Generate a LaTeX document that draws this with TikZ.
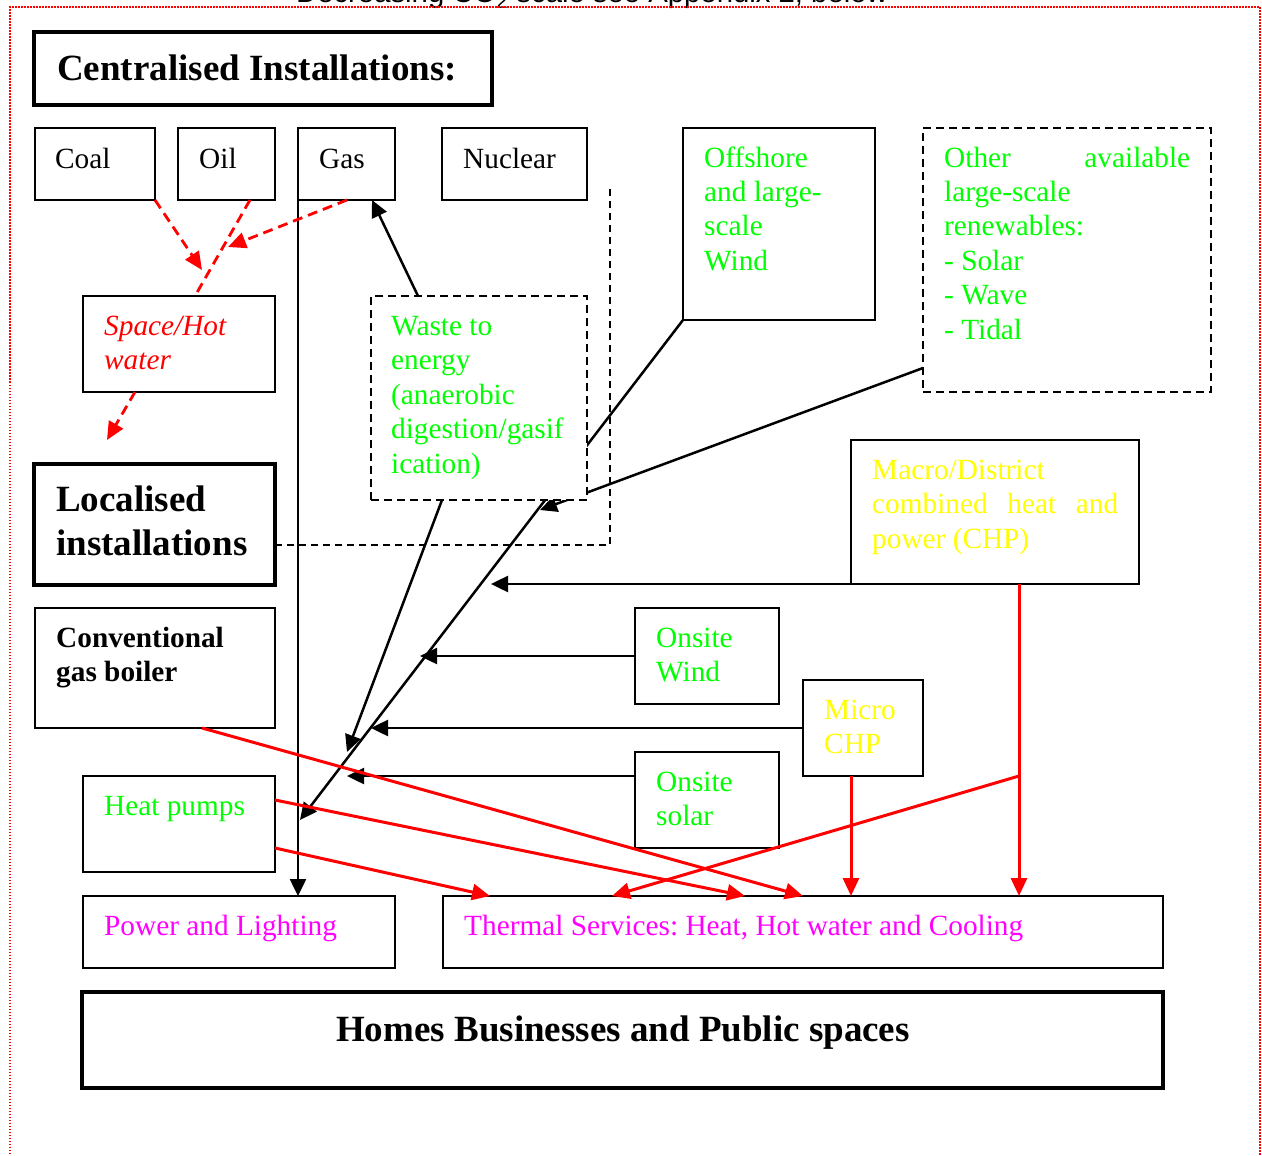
\documentclass[tikz,border=0pt]{standalone}
\usepackage{fontspec}
\setmainfont{Liberation Serif}
\newfontfamily\arialf{Liberation Sans}
\usetikzlibrary{arrows.meta,backgrounds,calc}
\definecolor{grn}{RGB}{0,255,0}
\definecolor{yel}{RGB}{255,255,0}
\definecolor{mag}{RGB}{255,0,255}
\frenchspacing
\begin{document}
\begin{tikzpicture}[x=1pt,y=-1pt,
  box/.style={draw, line width=2.2pt, fill=white, inner sep=0pt, outer sep=0pt, anchor=north west},
  dbox/.style={box, dash pattern=on 8pt off 5pt},
  tbox/.style={box, line width=3.8pt},
  txt/.style={inner sep=0pt, anchor=base west, font=\fontsize{29.3}{34.5}\selectfont},
  btxt/.style={inner sep=0pt, anchor=base west, font=\bfseries\fontsize{37}{44}\selectfont},
  conn/.style={line width=2.5pt, -{Triangle[length=17pt,width=16pt]}},
  rconn/.style={red, line width=3pt, -{Triangle[length=18pt,width=16pt]}},
  rdash/.style={red, line width=2.8pt, dash pattern=on 10pt off 6pt},
  rtip/.style={-{Triangle[length=18pt,width=16pt]}},
  frame/.style={red, line width=1.5pt, dash pattern=on 1.5pt off 1.5pt}]
\useasboundingbox (0,0) rectangle (1262,1156);
\clip (0,0) rectangle (1262,1156);

% title (cut off at top)
\node[inner sep=0pt, anchor=base, font=\arialf\fontsize{29.3}{34}\selectfont] (title) at (592,3) {Decreasing CO\textsubscript{2} scale see Appendix 2, below};
% red dotted frame
\coordinate (f1) at (10,1160); \coordinate (f2) at (10,7);
\coordinate (f3) at (1260,7); \coordinate (f4) at (1260,1160);
\draw[frame] (f1) -- (f2) -- (f3) -- (f4);

% boxes
\node[tbox, minimum width=458, minimum height=73] (central) at (34,32) {};
\node[box, minimum width=120, minimum height=72] (coal) at (35,128) {};
\node[box, minimum width=97, minimum height=72] (oil) at (178,128) {};
\node[box, minimum width=97, minimum height=72] (gas) at (298,128) {};
\node[box, minimum width=145, minimum height=72] (nuclear) at (442,128) {};
\node[box, minimum width=192, minimum height=192] (off) at (683,128) {};
\node[dbox, minimum width=288, minimum height=264] (other) at (923,128) {};
\node[box, minimum width=192, minimum height=96] (space) at (83,296) {};
\node[dbox, minimum width=216, minimum height=204] (waste) at (371,296) {};
\node[tbox, minimum width=241, minimum height=121] (local) at (34,464) {};
\node[box, minimum width=288, minimum height=144] (macro) at (851,440) {};
\node[box, minimum width=240, minimum height=120] (boiler) at (35,608) {};
\node[box, minimum width=144, minimum height=96] (wind) at (635,608) {};
\node[box, minimum width=120, minimum height=96] (micro) at (803,680) {};
\node[box, minimum width=144, minimum height=96] (solar) at (635,752) {};
\node[box, minimum width=192, minimum height=96] (hp) at (83,776) {};
\node[box, minimum width=312, minimum height=72] (power) at (83,896) {};
\node[box, minimum width=720, minimum height=72] (thermal) at (443,896) {};
\node[tbox, minimum width=1081, minimum height=96] (homes) at (82,992) {};

% texts
\node[btxt] (central-t) at (57,81) {Centralised Installations:};
\node[txt] (coal-t) at (55,168) {Coal};
\node[txt] (oil-t) at (199,168) {Oil};
\node[txt] (gas-t) at (319,168) {Gas};
\node[txt] (nuclear-t) at (463,168) {Nuclear};
\node[txt, text=grn] (off-t) at (704,167) {\parbox[t]{200pt}{Offshore\\and large-\\scale\\Wind}};
\node[txt, text=grn] (other-t) at (944,167) {\parbox[t]{246pt}{Other\hfill available\\large-scale\\renewables:\\- Solar\\- Wave\\- Tidal}};
\node[txt, text=red, font=\itshape\fontsize{29.3}{34.5}\selectfont] (space-t) at (104,335) {\parbox[t]{200pt}{Space/Hot\\water}};
\node[txt, text=grn] (waste-t) at (391,335) {\parbox[t]{200pt}{Waste to\\energy\\(anaerobic\\digestion/gasif\\ication)}};
\node[btxt] (local-t) at (56,511) {\parbox[t]{240pt}{Localised\\installations}};
\node[txt, text=yel] (macro-t) at (872,479) {\parbox[t]{246pt}{Macro/District\\combined\hfill heat\hfill and\\power (CHP)}};
\node[txt, font=\bfseries\fontsize{29.3}{34.5}\selectfont] (boiler-t) at (56,647) {\parbox[t]{240pt}{Conventional\\gas boiler}};
\node[txt, text=grn] (wind-t) at (656,647) {\parbox[t]{140pt}{Onsite\\Wind}};
\node[txt, text=yel] (micro-t) at (824,719) {\parbox[t]{140pt}{Micro\\CHP}};
\node[txt, text=grn] (solar-t) at (656,791) {\parbox[t]{140pt}{Onsite\\solar}};
\node[txt, text=grn] (hp-t) at (104,815) {Heat pumps};
\node[txt, text=mag] (power-t) at (104,935) {Power and Lighting};
\node[txt, text=mag] (thermal-t) at (464,935) {Thermal Services: Heat, Hot water and Cooling};
\node[btxt, anchor=base] (homes-t) at (623,1041) {Homes Businesses and Public spaces};

% free ends
\coordinate (pA) at (202,270);
\coordinate (pB) at (228,247);
\coordinate (pC) at (107,440);
\coordinate (t1) at (347,752);
\coordinate (t2) at (300,820);
\coordinate (t3) at (540,510);
\coordinate (t4) at (491,584);
\coordinate (t5) at (420,656);
\coordinate (t6) at (371,728);
\coordinate (t7) at (347,776);
\coordinate (br) at (1019,776);
\coordinate (dl1) at (610,545);
\coordinate (dl2) at (610,185);

% lines passing behind the waste box
\begin{pgfonlayer}{background}
\draw[conn] (off.south west) -- (t2);
\draw[conn] ([yshift=-240pt]other.north west) -- (t3);
\end{pgfonlayer}

% dashed boundary
\draw[line width=1.6pt, dash pattern=on 7pt off 5pt] ([yshift=-81pt]local.north east) -- (dl1) -- (dl2);

% black connectors
\draw[conn] (gas.south west) -- (gas.south west |- power.north);
\draw[conn] ([xshift=47pt]waste.north west) -- ([xshift=74pt]gas.south west);
\draw[conn] ([xshift=71pt]waste.south west) -- (t1);
\draw[conn] (macro.south west) -- (t4);
\draw[conn] (wind.west) -- (t5);
\draw[conn] (micro.west) -- (t6);
\draw[conn] ([yshift=-24pt]solar.north west) -- (t7);

% red dashed connectors
\draw[rdash, rtip] (coal.south east) -- (pA);
\draw[rdash] ([xshift=72pt]oil.south west) -- ([xshift=112pt]space.north west);
\draw[rdash, rtip] ([xshift=49pt]gas.south west) -- (pB);
\draw[rdash, rtip] ([xshift=52pt]space.south west) -- (pC);

% red solid connectors
\draw[rconn] ([xshift=167pt]boiler.south west) -- ([xshift=360pt]thermal.north west);
\draw[rconn] ([yshift=-24pt]hp.north east) -- ([xshift=302pt]thermal.north west);
\draw[rconn] ([yshift=-72pt]hp.north east) -- ([xshift=47pt]thermal.north west);
\draw[rconn] ([xshift=48pt]micro.south west) -- ([xshift=48pt]micro.south west |- thermal.north);
\draw[rconn] ([xshift=168pt]macro.south west) -- ([xshift=168pt]macro.south west |- thermal.north);
\draw[rconn] (br) -- ([xshift=169pt]thermal.north west);
\end{tikzpicture}
\end{document}
